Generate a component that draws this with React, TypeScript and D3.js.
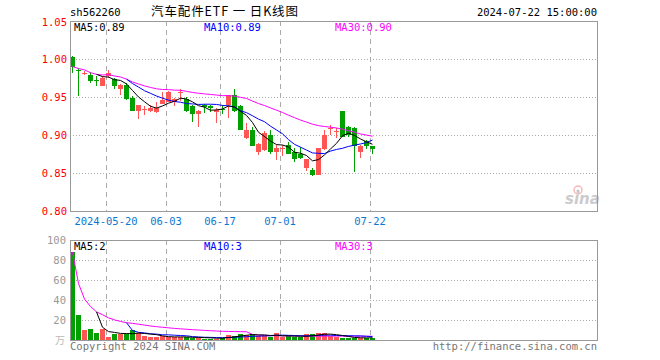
import React from "react";
import * as d3 from "d3";

const dates = [
  "2024-05-10",
  "2024-05-13","2024-05-14","2024-05-15","2024-05-16","2024-05-17",
  "2024-05-20","2024-05-21","2024-05-22","2024-05-23","2024-05-24",
  "2024-05-27","2024-05-28","2024-05-29","2024-05-30","2024-05-31",
  "2024-06-03","2024-06-04","2024-06-05","2024-06-06","2024-06-07",
  "2024-06-11","2024-06-12","2024-06-13","2024-06-14",
  "2024-06-17","2024-06-18","2024-06-19","2024-06-20","2024-06-21",
  "2024-06-24","2024-06-25","2024-06-26","2024-06-27","2024-06-28",
  "2024-07-01","2024-07-02","2024-07-03","2024-07-04","2024-07-05",
  "2024-07-08","2024-07-09","2024-07-10","2024-07-11","2024-07-12",
  "2024-07-15","2024-07-16","2024-07-17","2024-07-18","2024-07-19",
  "2024-07-22",
];

const open = [
  1.003, 0.986, 0.981, 0.979, 0.972, 0.965, 0.977, 0.974, 0.961, 0.966,
  0.949, 0.932, 0.933, 0.932, 0.930, 0.941, 0.944, 0.944, 0.955, 0.948,
  0.9385, 0.927, 0.940, 0.938, 0.930, 0.934, 0.939, 0.952, 0.9385, 0.896,
  0.907, 0.877, 0.880, 0.900, 0.877, 0.882, 0.887, 0.878, 0.875, 0.857,
  0.854, 0.848, 0.881, 0.908, 0.904, 0.931, 0.911, 0.909, 0.877, 0.892,
  0.885,
];
const high = [
  1.004, 0.988, 0.984, 0.983, 0.977, 0.978, 0.986, 0.975, 0.967, 0.968,
  0.951, 0.940, 0.938, 0.939, 0.944, 0.956, 0.958, 0.949, 0.960, 0.950,
  0.940, 0.933, 0.941, 0.939, 0.935, 0.940, 0.953, 0.9605, 0.940, 0.916,
  0.911, 0.889, 0.905, 0.906, 0.887, 0.887, 0.891, 0.883, 0.884, 0.869,
  0.857, 0.883, 0.907, 0.9135, 0.909, 0.931, 0.912, 0.910, 0.887, 0.894,
  0.886,
];
const low = [
  0.982, 0.951, 0.979, 0.969, 0.965, 0.965, 0.975, 0.960, 0.953, 0.946,
  0.931, 0.921, 0.926, 0.930, 0.929, 0.941, 0.943, 0.938, 0.945, 0.930,
  0.917, 0.911, 0.929, 0.930, 0.916, 0.927, 0.922, 0.930, 0.906, 0.895,
  0.885, 0.874, 0.879, 0.875, 0.867, 0.872, 0.875, 0.865, 0.869, 0.852,
  0.846, 0.847, 0.880, 0.900, 0.896, 0.897, 0.898, 0.851, 0.870, 0.881,
  0.875,
];
const close = [
  0.990, 0.985, 0.982, 0.971, 0.971, 0.975, 0.982, 0.965, 0.966, 0.948,
  0.932, 0.939, 0.934, 0.936, 0.936, 0.946, 0.957, 0.947, 0.956, 0.931,
  0.927, 0.932, 0.937, 0.936, 0.933, 0.933, 0.952, 0.931, 0.907, 0.906,
  0.886, 0.888, 0.903, 0.877, 0.883, 0.883, 0.875, 0.869, 0.870, 0.868,
  0.848, 0.883, 0.900, 0.909, 0.905, 0.898, 0.900, 0.885, 0.886, 0.886,
  0.882,
];
// volume in 万
const volume = [
  88, 25, 10, 11, 6.7, 11, 3.3, 6, 6, 6,
  10, 6.7, 4, 2.7, 3.3, 4, 2.7, 2.7, 2.7, 3.3,
  2, 2.5, 1.5, 1.5, 1.5, 2.3, 5.5, 4.5, 6, 5.5,
  6, 3.5, 4.5, 3, 7, 3, 3.5, 3, 3, 6,
  6, 7, 7, 3.5, 3, 2, 2.3, 1.8, 2.3, 2.3,
  2.3,
];

const priceTicks = [0.8, 0.85, 0.9, 0.95, 1.0, 1.05];
const volTicks = [20, 40, 60, 80, 100];
const dateTicks = ["2024-05-20", "2024-06-03", "2024-06-17", "2024-07-01", "2024-07-22"];

const RED = "#ff5555";
const GREEN = "#00a000";
const MONO = "'DejaVu Sans Mono', 'Liberation Mono', monospace";

function movingAvg(arr: number[], n: number, partial: boolean): (number | null)[] {
  return arr.map((_, i) => {
    if (i < n - 1 && !partial) return null;
    const s = Math.max(0, i - n + 1);
    const slice = arr.slice(s, i + 1);
    return d3.mean(slice) as number;
  });
}

export default function App() {
  const W = 660, H = 360;
  const L = 70, R = 597, T = 21, B = 211, VT = 240, VB = 340;
  const SLOT = 6;
  const nSlots = (R - L) / SLOT;

  const x = d3.scaleLinear().domain([0, nSlots]).range([L, R]);
  const yP = d3.scaleLinear().domain([0.8, 1.05]).range([B, T]);
  const yV = d3.scaleLinear().domain([0, 100]).range([VB, VT]);

  const idx = d3.range(dates.length);
  const cx = (i: number) => x(i) + 2.5;

  const ma5 = movingAvg(close, 5, false);
  const ma10 = movingAvg(close, 10, false);
  const ma30 = movingAvg(close, 30, true);
  const vma5 = movingAvg(volume, 5, false);
  const vma10 = movingAvg(volume, 10, false);
  const vma30 = movingAvg(volume, 30, true);

  const lineP = d3
    .line<number | null>()
    .defined((d) => d != null)
    .x((_, i) => cx(i))
    .y((d) => yP(d as number));
  const lineV = d3
    .line<number | null>()
    .defined((d) => d != null)
    .x((_, i) => cx(i))
    .y((d) => yV(d as number));

  const last = dates.length - 1;
  const fmtP = (v: number | null) => (v as number).toFixed(2);
  const fmtV = (v: number | null) => String(Math.floor(v as number));

  const isUp = (i: number) => close[i] >= open[i];

  return (
    <svg
      width={W}
      height={H}
      style={{ position: "fixed", left: 0, top: 0, background: "#fff" }}
      fontFamily={MONO}
    >
      <rect x={0} y={0} width={W} height={H} fill="#fff" />

      {/* header */}
      <text x={70} y={16} fontSize={10.5} fill="#000">sh562260</text>
      <text
        x={151}
        y={16}
        fontSize={12.5}
        fill="#000"
        textLength={147}
        lengthAdjust="spacing"
        fontFamily="'Noto Sans CJK SC', sans-serif"
      >
        汽车配件ETF 一 日K线图
      </text>
      <text x={597} y={16} fontSize={10.5} textAnchor="end" fill="#000">
        2024-07-22 15:00:00
      </text>

      {/* main grid */}
      {priceTicks
        .filter((t) => t > 0.8 && t < 1.05)
        .map((t) => (
          <line
            key={"pg" + t}
            x1={L}
            x2={R}
            y1={Math.round(yP(t)) + 0.5}
            y2={Math.round(yP(t)) + 0.5}
            stroke="#aaa"
            strokeDasharray="1,2"
          />
        ))}
      {dateTicks.map((d) => {
        const xi = Math.round(x(dates.indexOf(d))) + 0.5;
        return (
          <g key={"dv" + d}>
            <line x1={xi} x2={xi} y1={T} y2={B} stroke="#aaa" strokeDasharray="5,4" />
            <line x1={xi} x2={xi} y1={VT} y2={VB} stroke="#aaa" strokeDasharray="5,4" />
          </g>
        );
      })}
      {volTicks
        .filter((t) => t < 100)
        .map((t) => (
          <line
            key={"vg" + t}
            x1={L}
            x2={R}
            y1={Math.round(yV(t)) + 0.5}
            y2={Math.round(yV(t)) + 0.5}
            stroke="#aaa"
            strokeDasharray="1,2"
          />
        ))}

      {/* price labels */}
      {priceTicks.map((t) => {
        let cy = yP(t);
        if (t === 1.05) cy = T + 1.5;
        return (
          <text key={"pl" + t} x={67} y={cy + 3.8} fontSize={10.5} textAnchor="end" fill="#ff0000">
            {t.toFixed(2)}
          </text>
        );
      })}
      {/* volume labels */}
      {volTicks.map((t) => (
        <text key={"vl" + t} x={66} y={yV(t) + 4} fontSize={10.5} textAnchor="end" fill="#999">
          {t}
        </text>
      ))}
      <text x={65} y={344} fontSize={10} textAnchor="end" fill="#bbb" fontFamily="'Noto Sans CJK SC', sans-serif">
        万
      </text>

      {/* date labels */}
      {dateTicks.map((d, k) => (
        <text
          key={"dl" + d}
          x={x(dates.indexOf(d))}
          y={225}
          fontSize={10.5}
          textAnchor="middle"
          fill="#0a78d2"
        >
          {k === 0 ? d : d.slice(5)}
        </text>
      ))}

      {/* sina logo */}
      <g opacity={0.5}>
        <circle cx={578} cy={190} r={4} fill="none" stroke="#f07070" strokeWidth={1.5} />
        <circle cx={578} cy={191} r={1.5} fill="#888" />
        <text x={565} y={204} fontSize={15} fontStyle="italic" fontWeight="bold" fill="#999" fontFamily="'DejaVu Sans', sans-serif">
          sina
        </text>
      </g>

      {/* candles */}
      {idx.map((i) => {
        const up = isUp(i);
        const col = up ? RED : GREEN;
        const top = yP(Math.max(open[i], close[i]));
        const bot = yP(Math.min(open[i], close[i]));
        const h = Math.max(1, Math.round(bot) - Math.round(top));
        return (
          <g key={"c" + i} shapeRendering="crispEdges">
            <line x1={cx(i)} x2={cx(i)} y1={Math.round(yP(high[i]))} y2={Math.round(yP(low[i]))} stroke={col} />
            <rect x={x(i)} y={Math.round(top)} width={5} height={h} fill={col} />
          </g>
        );
      })}

      {/* price MAs */}
      <path d={lineP(ma30) || ""} fill="none" stroke="#ff00ff" strokeWidth={1} />
      <path d={lineP(ma10) || ""} fill="none" stroke="#0000ff" strokeWidth={1} />
      <path d={lineP(ma5) || ""} fill="none" stroke="#000" strokeWidth={1} />

      {/* volume bars */}
      {idx.map((i) => {
        const col = isUp(i) ? RED : GREEN;
        const top = Math.round(yV(volume[i]));
        return (
          <rect
            key={"v" + i}
            x={x(i)}
            y={top}
            width={5}
            height={VB - top}
            fill={col}
            shapeRendering="crispEdges"
          />
        );
      })}
      <path d={lineV(vma30) || ""} fill="none" stroke="#ff00ff" strokeWidth={1} />
      <path d={lineV(vma10) || ""} fill="none" stroke="#0000ff" strokeWidth={1} />
      <path d={lineV(vma5) || ""} fill="none" stroke="#000" strokeWidth={1} />

      {/* frames */}
      <rect x={L + 0.5} y={T + 0.5} width={R - L} height={B - T} fill="none" stroke="#999" />
      <rect x={L + 0.5} y={VT + 0.5} width={R - L} height={VB - VT} fill="none" stroke="#999" />

      {/* legends */}
      <text x={74} y={31} fontSize={10.5} fill="#000">{"MA5:" + fmtP(ma5[last])}</text>
      <text x={204} y={31} fontSize={10.5} fill="#0000ff">{"MA10:" + fmtP(ma10[last])}</text>
      <text x={335} y={31} fontSize={10.5} fill="#ff00ff">{"MA30:" + fmtP(ma30[last])}</text>
      <text x={74} y={250} fontSize={10.5} fill="#000">{"MA5:" + fmtV(vma5[last])}</text>
      <text x={204} y={250} fontSize={10.5} fill="#0000ff">{"MA10:" + fmtV(vma10[last])}</text>
      <text x={335} y={250} fontSize={10.5} fill="#ff00ff">{"MA30:" + fmtV(vma30[last])}</text>

      {/* footer */}
      <text x={70} y={350} fontSize={10.5} fill="#777">Copyright 2024 SINA.COM</text>
      <text x={597} y={350} fontSize={10.5} textAnchor="end" fill="#777">
        http://finance.sina.com.cn
      </text>
    </svg>
  );
}
